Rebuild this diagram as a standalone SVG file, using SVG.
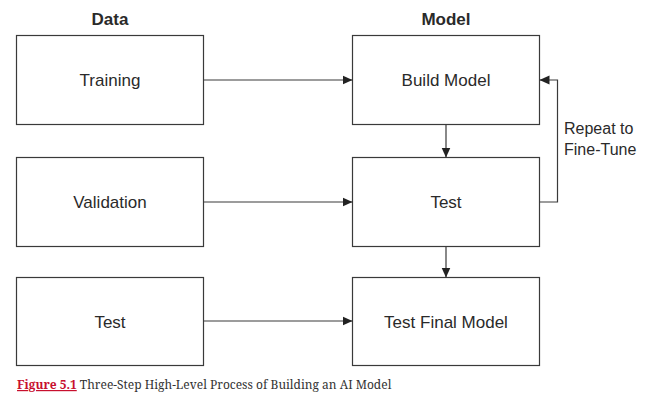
<svg xmlns="http://www.w3.org/2000/svg" width="656" height="409" viewBox="0 0 656 409">
<style>
.box{fill:#fff;stroke:#3a3a3a;stroke-width:1.2}
.lbl{font-family:"Liberation Sans",Arial,sans-serif;font-size:17px;fill:#2a2a2a;text-anchor:middle}
.hdr{font-family:"Liberation Sans",Arial,sans-serif;font-size:17px;font-weight:bold;fill:#2a2a2a;text-anchor:middle}
.con{fill:none;stroke:#3a3a3a;stroke-width:1.2}
.cap{font-family:"Noto Serif","DejaVu Serif","Liberation Serif",serif;font-size:12px;fill:#333}
</style>
<defs>
<marker id="ah" viewBox="0 0 10 10" refX="10" refY="5" markerWidth="10" markerHeight="10" markerUnits="userSpaceOnUse" orient="auto">
<path d="M0,0.5 L10,5 L0,9.5 Z" fill="#222"/>
</marker>
</defs>
<rect width="656" height="409" fill="#fff"/>
<text class="hdr" x="110" y="25">Data</text>
<text class="hdr" x="446" y="25">Model</text>
<g id="training"><rect class="box" x="16.5" y="35.5" width="187" height="89"/><text class="lbl" x="110" y="86">Training</text></g>
<g id="validation"><rect class="box" x="16.5" y="157.5" width="187" height="89"/><text class="lbl" x="110" y="208">Validation</text></g>
<g id="test-data"><rect class="box" x="16.5" y="277.5" width="187" height="88"/><text class="lbl" x="110" y="328">Test</text></g>
<g id="build-model"><rect class="box" x="352.5" y="35.5" width="187" height="89"/><text class="lbl" x="446" y="86">Build Model</text></g>
<g id="test"><rect class="box" x="352.5" y="157.5" width="187" height="89"/><text class="lbl" x="446" y="208">Test</text></g>
<g id="test-final-model"><rect class="box" x="352.5" y="277.5" width="187" height="88"/><text class="lbl" x="446" y="328">Test Final Model</text></g>
<g id="connectors">
<line class="con" x1="203.5" y1="80" x2="352.5" y2="80" marker-end="url(#ah)"/>
<line class="con" x1="203.5" y1="202" x2="352.5" y2="202" marker-end="url(#ah)"/>
<line class="con" x1="203.5" y1="321" x2="352.5" y2="321" marker-end="url(#ah)"/>
<line class="con" x1="446" y1="124.5" x2="446" y2="157.5" marker-end="url(#ah)"/>
<line class="con" x1="446" y1="246.5" x2="446" y2="277.5" marker-end="url(#ah)"/>
<polyline class="con" points="539.5,202 557.5,202 557.5,80 539.5,80" marker-end="url(#ah)"/>
<text class="lbl" x="564" y="134" style="text-anchor:start;font-size:16px">Repeat to</text>
<text class="lbl" x="564" y="155" style="text-anchor:start;font-size:16px">Fine-Tune</text>
</g>
<text class="cap" x="17" y="389"><tspan fill="#c8102e" font-weight="bold" text-decoration="underline">Figure 5.1</tspan> Three-Step High-Level Process of Building an AI Model</text>
</svg>
